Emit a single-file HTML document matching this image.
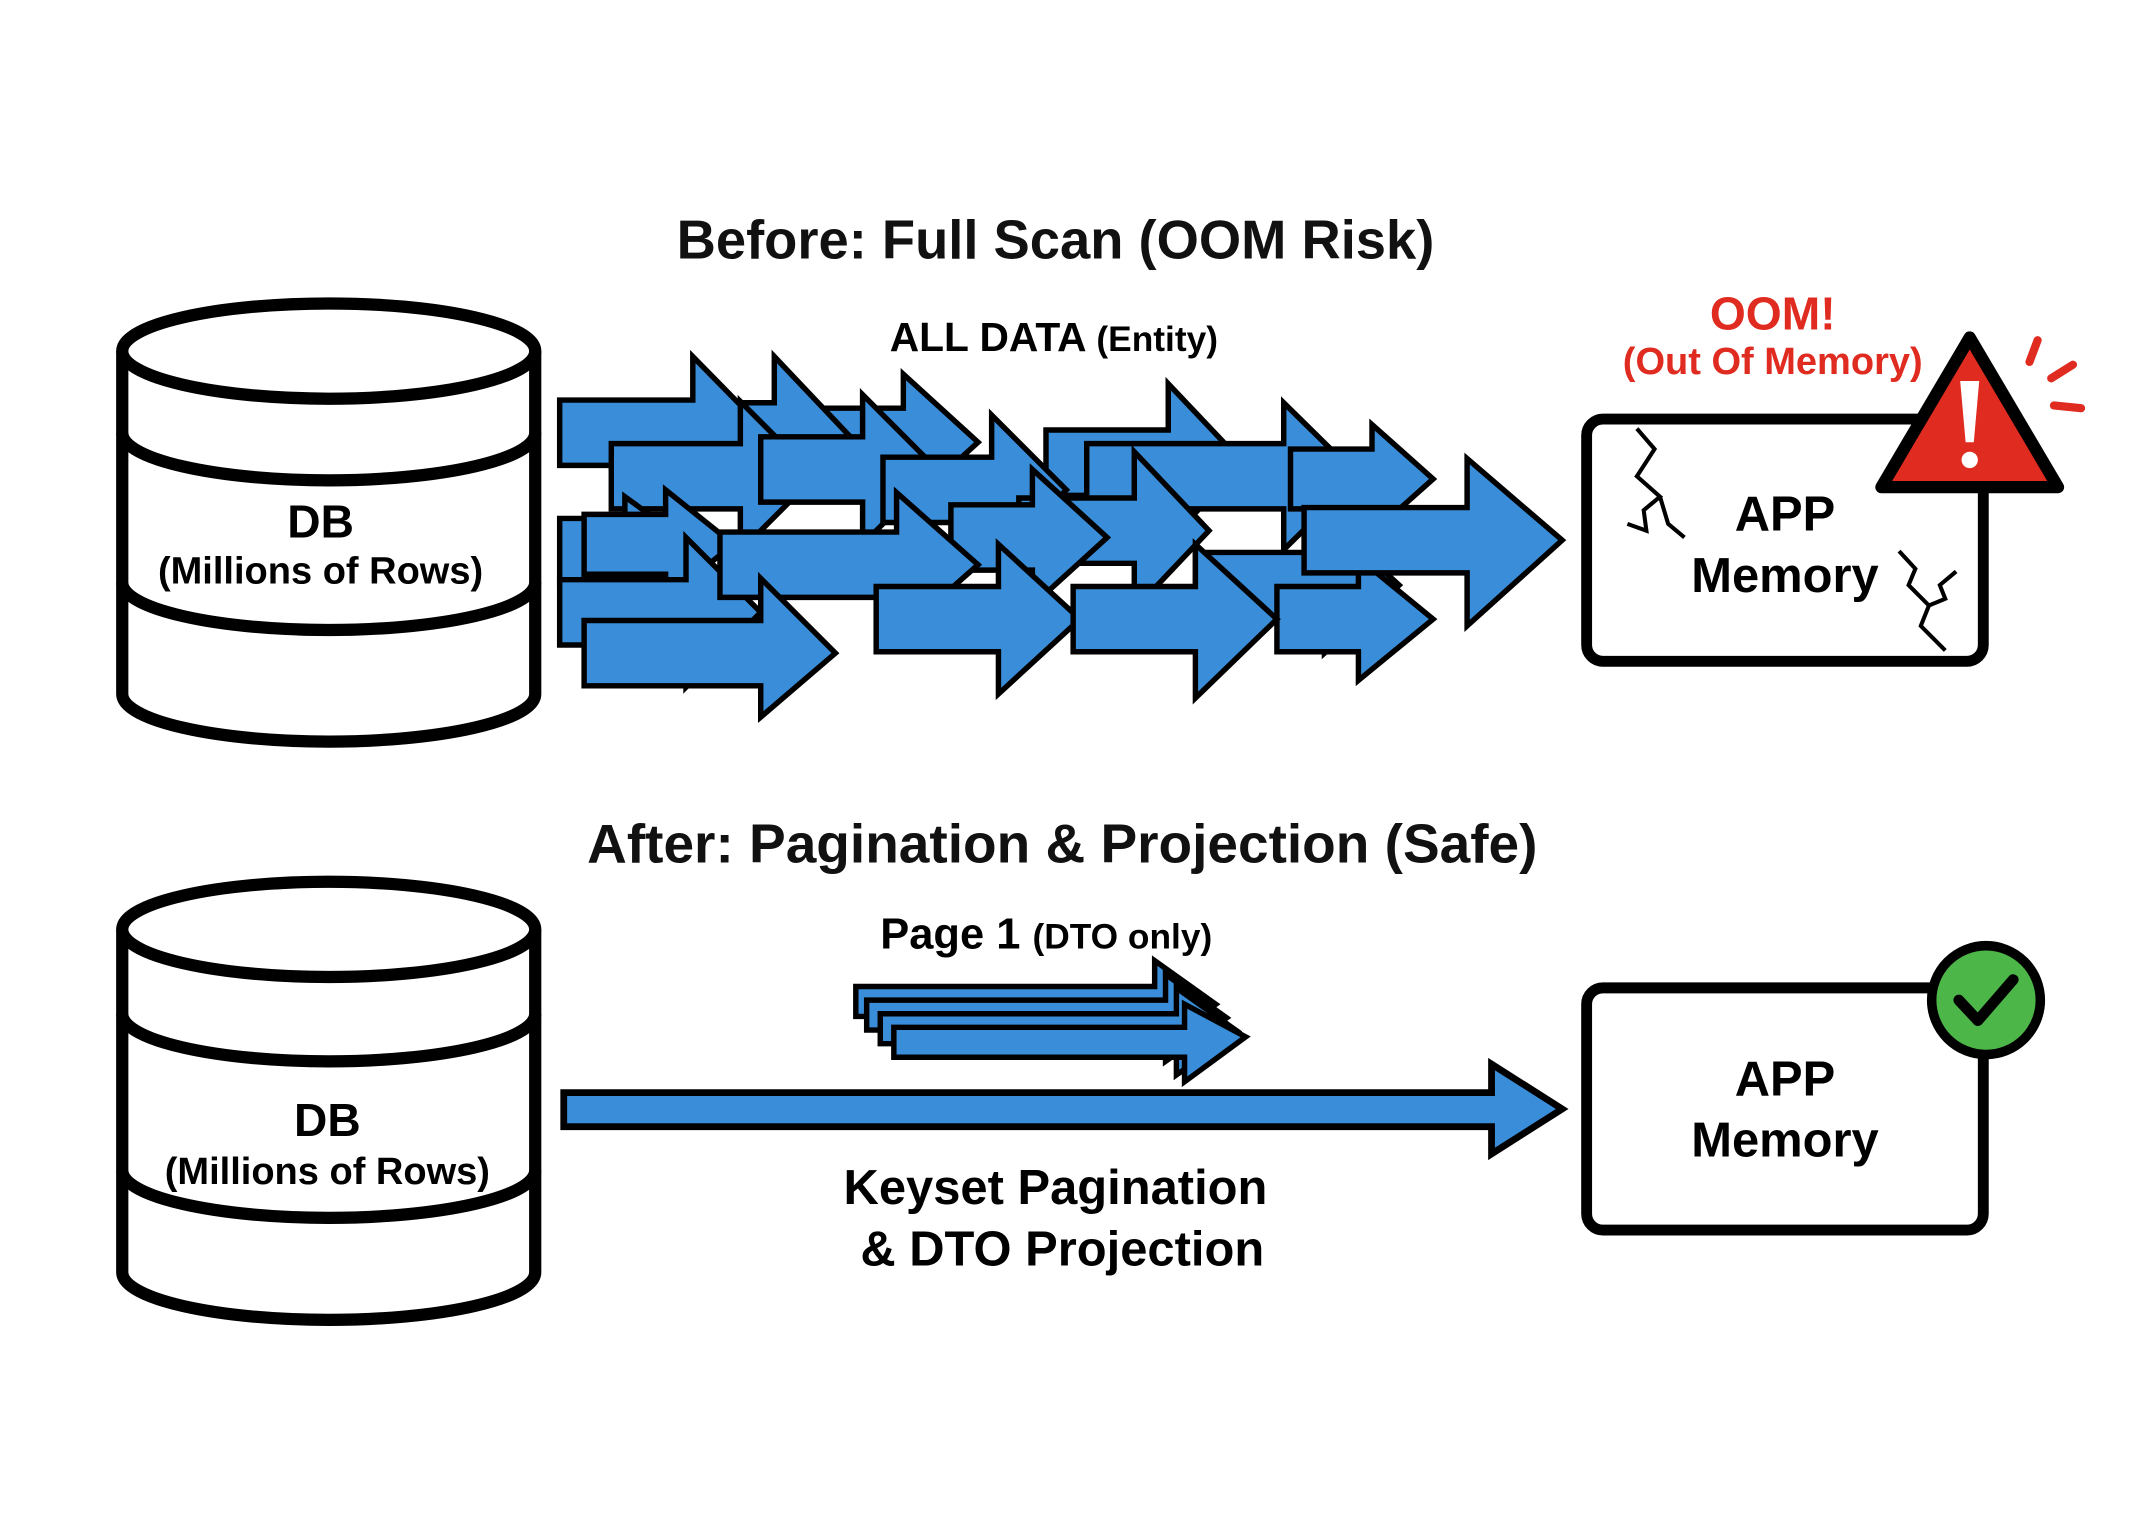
<!DOCTYPE html>
<html><head><meta charset="utf-8"><style>
html,body{margin:0;padding:0;background:#fff;}
svg{display:block;}
text{font-family:"Liberation Sans",Arial,sans-serif;font-weight:bold;}
</style></head><body>
<svg width="2130" height="1524" viewBox="0 0 1568 1120" preserveAspectRatio="none" xmlns="http://www.w3.org/2000/svg">
<rect width="1568" height="1120" fill="#fff"/>
<!-- titles -->
<text x="777" y="190" font-size="40" text-anchor="middle" fill="#111">Before: Full Scan (OOM Risk)</text>
<text x="782" y="634" font-size="40.5" text-anchor="middle" fill="#111">After: Pagination &amp; Projection (Safe)</text>

<!-- DB 1 -->
<g fill="#fff" stroke="#000" stroke-width="9">
<path d="M90,258 L90,510 A152,35 0 0 0 394,510 L394,258"/>
<ellipse cx="242" cy="258" rx="152" ry="35"/>
<path d="M90,318 A152,35 0 0 0 394,318" fill="none"/>
<path d="M90,428 A152,35 0 0 0 394,428" fill="none"/>
</g>
<text x="236" y="395" font-size="34" text-anchor="middle">DB</text>
<text x="236" y="429" font-size="28" text-anchor="middle">(Millions of Rows)</text>

<!-- DB 2 -->
<g fill="#fff" stroke="#000" stroke-width="9">
<path d="M90,683 L90,935 A152,35 0 0 0 394,935 L394,683"/>
<ellipse cx="242" cy="683" rx="152" ry="35"/>
<path d="M90,745 A152,35 0 0 0 394,745" fill="none"/>
<path d="M90,860 A152,35 0 0 0 394,860" fill="none"/>
</g>
<text x="241" y="835" font-size="34" text-anchor="middle">DB</text>
<text x="241" y="870" font-size="28" text-anchor="middle">(Millions of Rows)</text>

<!-- many arrows -->
<g fill="#3a8dd8" stroke="#000" stroke-width="4" stroke-linejoin="miter">
<polygon points="770,316 860,316 860,282 915,340 860,398 860,364 770,364"/>
<polygon points="800,326 945,326 945,296 1000,350 945,404 945,374 800,374"/>
<polygon points="950,330 1010,330 1010,312 1055,352 1010,392 1010,374 950,374"/>
<polygon points="520,300 665,300 665,275 720,325 665,375 665,350 520,350"/>
<polygon points="450,296 570,296 570,262 625,320 570,378 570,344 450,344"/>
<polygon points="412,294 510,294 510,262 565,318 510,374 510,342 412,342"/>
<polygon points="450,326 545,326 545,295 600,350 545,405 545,374 450,374"/>
<polygon points="560,321 635,321 635,290 690,345 635,400 635,369 560,369"/>
<polygon points="650,336 730,336 730,305 785,360 730,415 730,384 650,384"/>
<polygon points="750,366 835,366 835,332 890,390 835,448 835,414 750,414"/>
<polygon points="412,381 460,381 460,365 515,405 460,445 460,429 412,429"/>
<polygon points="430,378 490,378 490,360 540,400 490,440 490,422 430,422"/>
<polygon points="700,371 760,371 760,345 815,395 760,445 760,419 700,419"/>
<polygon points="880,406 975,406 975,380 1030,430 975,480 975,454 880,454"/>
<polygon points="940,431 1000,431 1000,410 1055,455 1000,500 1000,479 940,479"/>
<polygon points="960,373 1080,373 1080,337 1150,397 1080,460 1080,421 960,421"/>
<polygon points="412,426 505,426 505,395 560,450 505,505 505,474 412,474"/>
<polygon points="530,391 660,391 660,362 720,415 660,468 660,439 530,439"/>
<polygon points="430,456 560,456 560,425 615,480 560,527 560,504 430,504"/>
<polygon points="645,431 735,431 735,400 795,455 735,510 735,479 645,479"/>
<polygon points="790,431 880,431 880,400 940,455 880,513 880,479 790,479"/>
</g>
<text x="655" y="258" font-size="30">ALL DATA <tspan font-size="26">(Entity)</tspan></text>

<!-- OOM -->
<text x="1305" y="242" font-size="34" text-anchor="middle" fill="#e02b20">OOM!</text>
<text x="1305" y="275" font-size="28" text-anchor="middle" fill="#e02b20">(Out Of Memory)</text>
<rect x="1168" y="308" width="292" height="178" rx="12" fill="#fff" stroke="#000" stroke-width="8"/>
<g fill="none" stroke="#000" stroke-width="3">
<path d="M1205,315 L1218,330 L1205,350 L1222,365 L1210,375 L1212,390 L1198,385 M1222,365 L1228,385 L1240,395"/>
<path d="M1398,405 L1410,418 L1405,430 L1420,445 L1432,440 L1428,430 L1440,420 M1420,445 L1414,460 L1432,478"/>
</g>
<text x="1314" y="390" font-size="36" text-anchor="middle">APP</text>
<text x="1314" y="435" font-size="36" text-anchor="middle">Memory</text>
<path d="M1450,248 L1515,358 L1385,358 Z" fill="#e02b20" stroke="#000" stroke-width="9" stroke-linejoin="round"/>
<path d="M1443,280 L1457,280 L1453,325 L1447,325 Z" fill="#fff"/>
<circle cx="1450" cy="338" r="6" fill="#fff"/>
<g stroke="#e02b20" stroke-width="6" stroke-linecap="round">
<line x1="1500" y1="250" x2="1494" y2="266"/>
<line x1="1526" y1="268" x2="1510" y2="278"/>
<line x1="1512" y1="298" x2="1532" y2="300"/>
</g>

<!-- after -->
<text x="648" y="697" font-size="32">Page 1 <tspan font-size="26">(DTO only)</tspan></text>
<g fill="#3a8dd8" stroke="#000" stroke-width="4">
<polygon points="630,725 850,725 850,706 895,738 850,770 850,747 630,747"/>
<polygon points="638,735 858,735 858,716 903,748 858,780 858,757 638,757"/>
<polygon points="648,745 866,745 866,726 911,758 866,790 866,767 648,767"/>
<polygon points="658,755 872,755 872,738 917,762 872,795 872,777 658,777"/>
</g>
<polygon points="415,803 1098,803 1098,782 1150,815 1098,848 1098,828 415,828" fill="#3a8dd8" stroke="#000" stroke-width="5"/>
<text x="777" y="885" font-size="36" text-anchor="middle">Keyset Pagination</text>
<text x="782" y="930" font-size="36" text-anchor="middle">&amp; DTO Projection</text>
<rect x="1168" y="726" width="292" height="178" rx="12" fill="#fff" stroke="#000" stroke-width="8"/>
<text x="1314" y="805" font-size="36" text-anchor="middle">APP</text>
<text x="1314" y="850" font-size="36" text-anchor="middle">Memory</text>
<circle cx="1462" cy="735" r="40" fill="#4cb648" stroke="#000" stroke-width="7"/>
<path d="M1442,735 L1456,750 L1482,720" fill="none" stroke="#000" stroke-width="8" stroke-linecap="round" stroke-linejoin="round"/>
</svg>
</body></html>
